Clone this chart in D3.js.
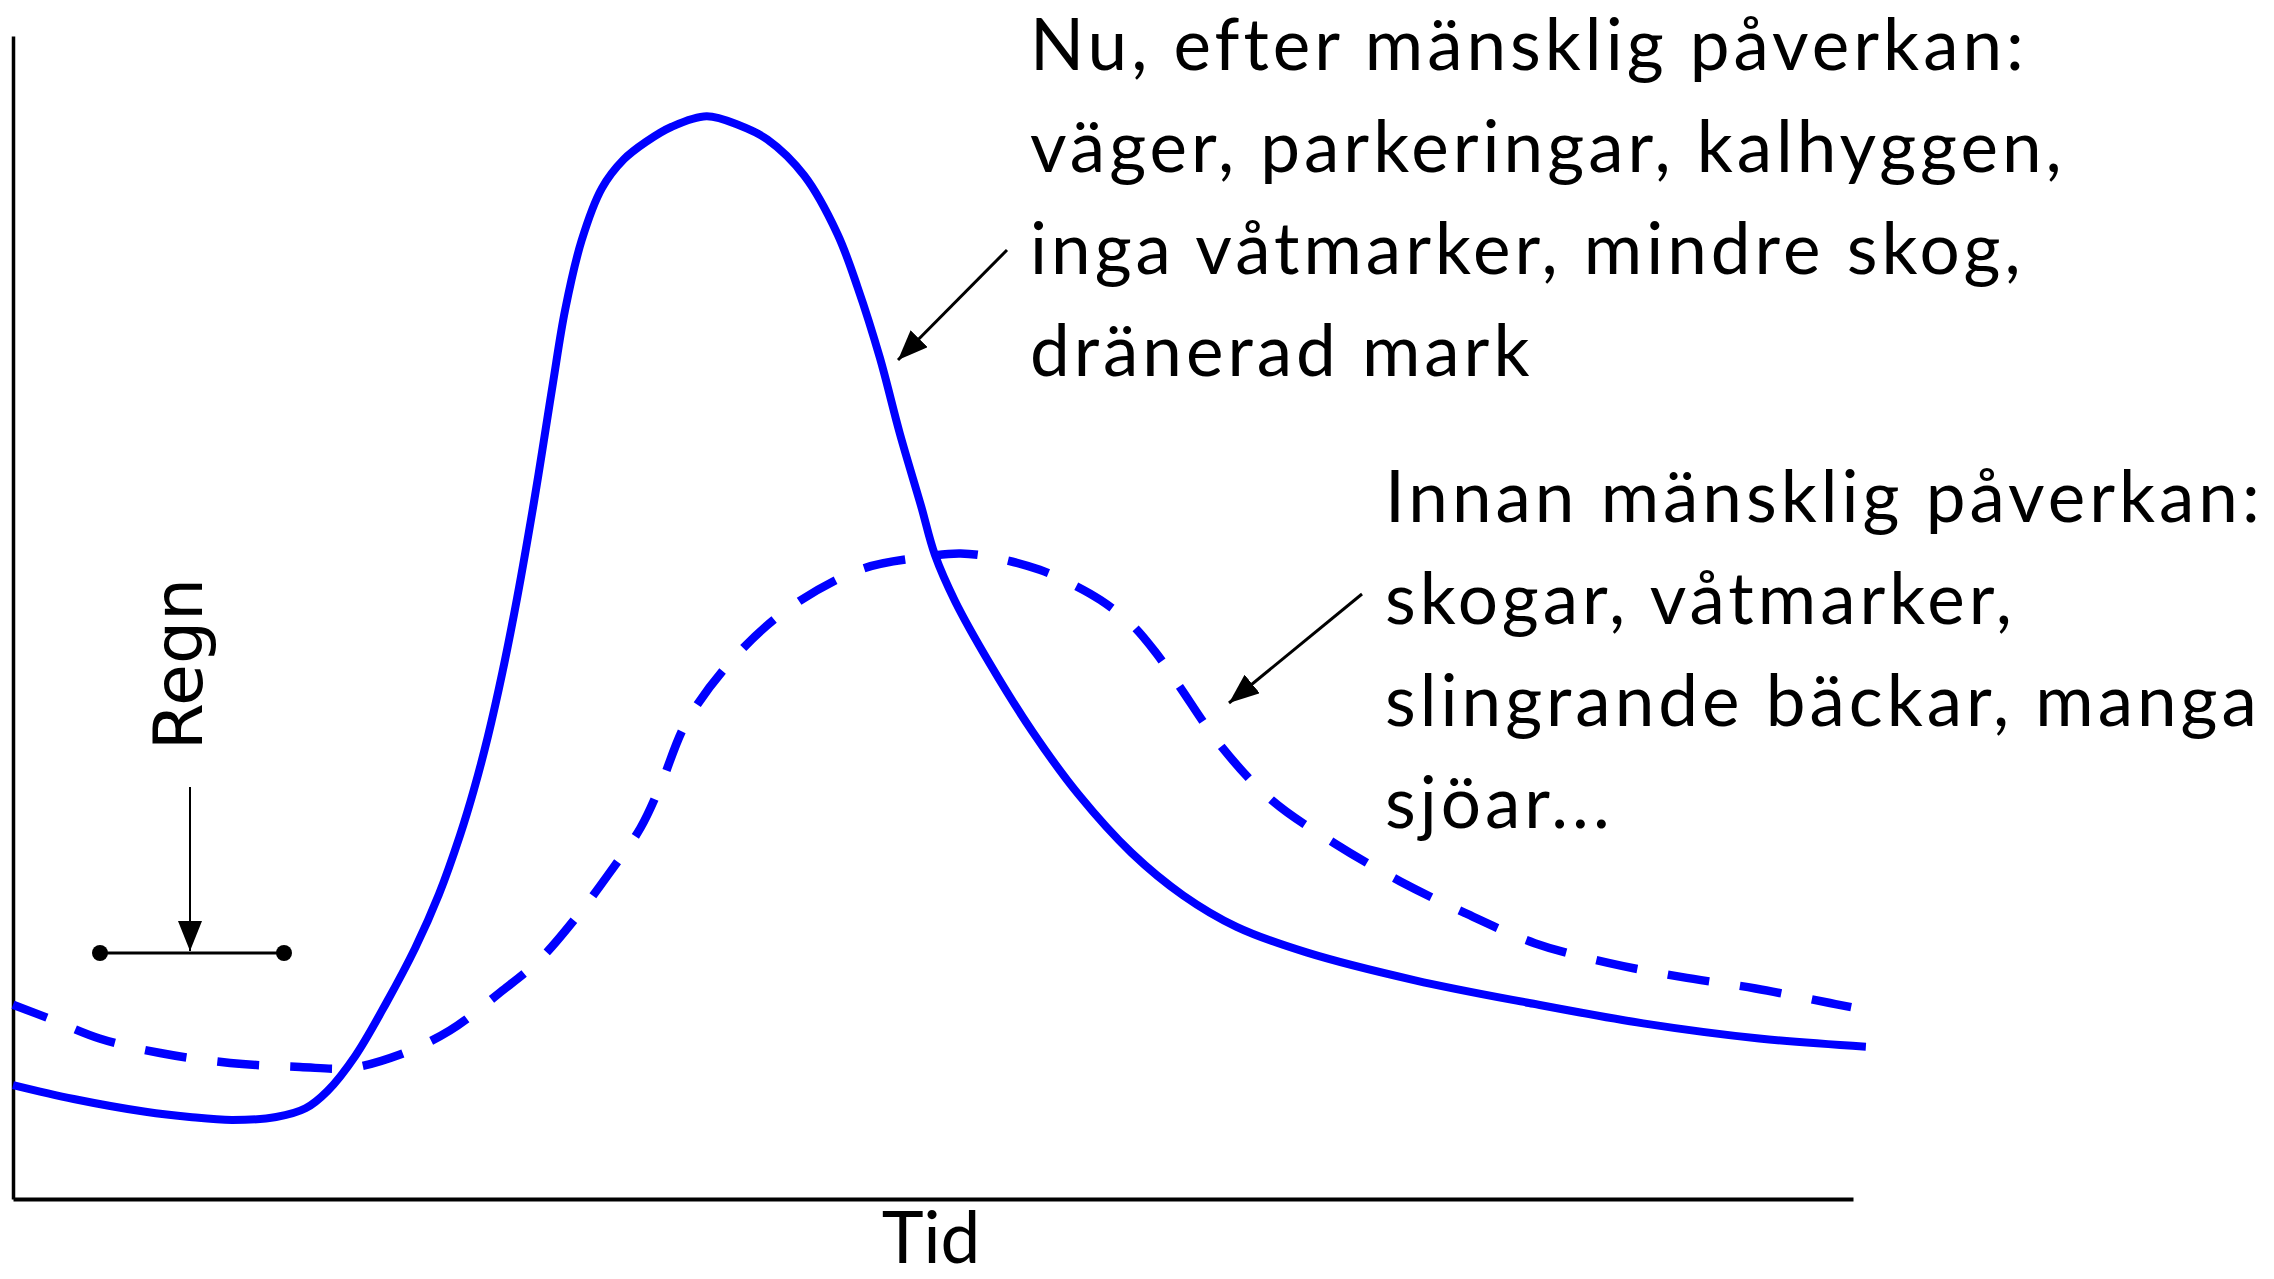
<!DOCTYPE html>
<html>
<head>
<meta charset="utf-8">
<script src="https://cdn.jsdelivr.net/npm/d3@7"></script>
<style>
  html, body { margin: 0; padding: 0; background: #fff; }
  svg { display: block; }
  text { font-family: Lato, "Open Sans", sans-serif; fill: #000; }
</style>
</head>
<body>
<div id="chart"></div>
<script>
// Tid (0-100) and flöde (0-100)
const nowTime = [0, 3.3, 7.2, 9.6, 11.9, 14.3, 15.9, 17.1, 18.6, 20.3, 21.85, 23.15, 24.3, 25.05, 25.8, 26.6, 27.4, 28.3, 28.75, 29.35, 30.0, 30.9, 32.0, 33.2, 34.4, 35.8, 37.7, 39.5, 41.0, 43.0, 44.8, 45.9, 47.1, 48.2, 49.35, 50.1, 51.2, 53.1, 55.4, 57.9, 60.8, 63.6, 66.5, 70.3, 76.2, 82.4, 88.6, 94.9, 100.7];
const nowFlow = [9.8, 8.6, 7.5, 7.05, 6.8, 7.05, 7.8, 9.3, 12.3, 16.9, 21.55, 26.2, 31.3, 35.2, 39.7, 45.3, 51.7, 59.8, 64.2, 70.2, 76.4, 82.4, 86.9, 89.4, 90.9, 92.2, 93.1, 92.3, 91.1, 88.0, 83.0, 78.4, 72.4, 65.8, 59.6, 55.4, 51.4, 46.0, 40.2, 34.8, 29.75, 26.1, 23.4, 21.2, 18.8, 16.85, 15.1, 13.8, 13.1];

const beforeTime = [0, 2.0, 4.7, 8.0, 11.8, 15.6, 18.3, 21.0, 23.75, 26.5, 28.6, 30.6, 32.4, 34.1, 35.2, 36.6, 39.0, 42.0, 46.0, 49.5, 51.5, 53.5, 55.8, 57.4, 59.1, 60.8, 62.1, 63.3, 65.65, 68.4, 71.8, 75.4, 78.9, 82.7, 86.7, 90.65, 94.7, 98.75, 99.9];
const beforeFlow = [16.7, 15.5, 13.8, 12.55, 11.7, 11.35, 11.26, 12.4, 14.5, 17.8, 20.55, 24.2, 28.0, 31.9, 35.6, 41.0, 46.2, 50.6, 54.1, 55.2, 55.5, 55.1, 54.1, 53.0, 51.5, 49.4, 47.0, 44.3, 38.95, 34.3, 30.6, 27.3, 24.6, 22.0, 20.3, 19.1, 18.1, 16.85, 16.5];

const nowLabel = ["Nu, efter mänsklig påverkan:", "väger, parkeringar, kalhyggen,", "inga våtmarker, mindre skog,", "dränerad mark"];
const beforeLabel = ["Innan mänsklig påverkan:", "skogar, våtmarker,", "slingrande bäckar, manga", "sjöar..."];
const xLabel = "Tid";
const rainLabel = "Regn";

const width = 2274, height = 1279;
const margin = { left: 13, right: 421, top: 36, bottom: 80 };

const svg = d3.select("#chart").append("svg")
    .attr("width", width)
    .attr("height", height);

const x = d3.scaleLinear().domain([0, 100]).range([margin.left, width - margin.right]);
const y = d3.scaleLinear().domain([0, 100]).range([height - margin.bottom, margin.top]);

// pilspets
const defs = svg.append("defs");
defs.append("marker")
    .attr("id", "head")
    .attr("viewBox", "0 0 10 8")
    .attr("refX", 10).attr("refY", 4)
    .attr("markerUnits", "userSpaceOnUse")
    .attr("markerWidth", 30).attr("markerHeight", 24)
    .attr("orient", "auto")
    .append("path")
    .attr("d", "M0,0 L10,4 L0,8 Z")
    .attr("fill", "#000");

// axlar utan ticks
svg.append("g")
    .attr("transform", `translate(0,${y(0)})`)
    .call(d3.axisBottom(x).tickValues([]).tickSizeOuter(0))
    .select(".domain").attr("stroke", "#000").attr("stroke-width", 4);

svg.append("g")
    .attr("transform", `translate(${x(0)},0)`)
    .call(d3.axisLeft(y).tickValues([]).tickSizeOuter(0))
    .select(".domain").attr("stroke", "#000").attr("stroke-width", 3.5);

const line = d3.line()
    .x(d => x(d[0]))
    .y(d => y(d[1]))
    .curve(d3.curveCatmullRom.alpha(0.5));

// innan (streckad)
svg.append("path")
    .datum(d3.zip(beforeTime, beforeFlow))
    .attr("d", line)
    .attr("fill", "none")
    .attr("stroke", "#0000ff")
    .attr("stroke-width", 8.5)
    .attr("stroke-dasharray", "42,31")
    .attr("stroke-dashoffset", 6);

// nu (heldragen)
svg.append("path")
    .datum(d3.zip(nowTime, nowFlow))
    .attr("d", line)
    .attr("fill", "none")
    .attr("stroke", "#0000ff")
    .attr("stroke-width", 8);

// textblock
const fs = 71;
const spacing = 4;
svg.append("text")
    .attr("x", 1030).attr("y", 70)
    .style("font-size", fs + "px")
    .style("letter-spacing", spacing + "px")
    .selectAll("tspan")
    .data(nowLabel)
    .join("tspan")
    .attr("x", 1030)
    .attr("dy", (d, i) => i === 0 ? 0 : 102)
    .text(d => d);

svg.append("text")
    .attr("x", 1385).attr("y", 522)
    .style("font-size", fs + "px")
    .style("letter-spacing", spacing + "px")
    .selectAll("tspan")
    .data(beforeLabel)
    .join("tspan")
    .attr("x", 1385)
    .attr("dy", (d, i) => i === 0 ? 0 : 102)
    .text(d => d);

// pilar till kurvorna
svg.append("line")
    .attr("x1", 1007).attr("y1", 250)
    .attr("x2", 898).attr("y2", 360)
    .attr("stroke", "#000").attr("stroke-width", 3)
    .attr("marker-end", "url(#head)");

svg.append("line")
    .attr("x1", 1362).attr("y1", 594)
    .attr("x2", 1229).attr("y2", 703)
    .attr("stroke", "#000").attr("stroke-width", 3)
    .attr("marker-end", "url(#head)");

// x-axelns rubrik
svg.append("text")
    .attr("x", 931).attr("y", 1263)
    .attr("text-anchor", "middle")
    .style("font-size", fs + "px")
    .text(xLabel);

// regn-markering
const rain = svg.append("g");
rain.append("text")
    .attr("transform", "translate(202,664) rotate(-90)")
    .attr("text-anchor", "middle")
    .style("font-family", "'DejaVu Sans', sans-serif")
    .style("font-size", "68px")
    .text(rainLabel);

rain.append("line")
    .attr("x1", 190).attr("y1", 787)
    .attr("x2", 190).attr("y2", 951)
    .attr("stroke", "#000").attr("stroke-width", 2)
    .attr("marker-end", "url(#head)");

rain.append("line")
    .attr("x1", 100).attr("y1", 953)
    .attr("x2", 284).attr("y2", 953)
    .attr("stroke", "#000").attr("stroke-width", 3);

rain.selectAll("circle")
    .data([100, 284])
    .join("circle")
    .attr("cx", d => d).attr("cy", 953)
    .attr("r", 8)
    .attr("fill", "#000");
</script>
</body>
</html>
